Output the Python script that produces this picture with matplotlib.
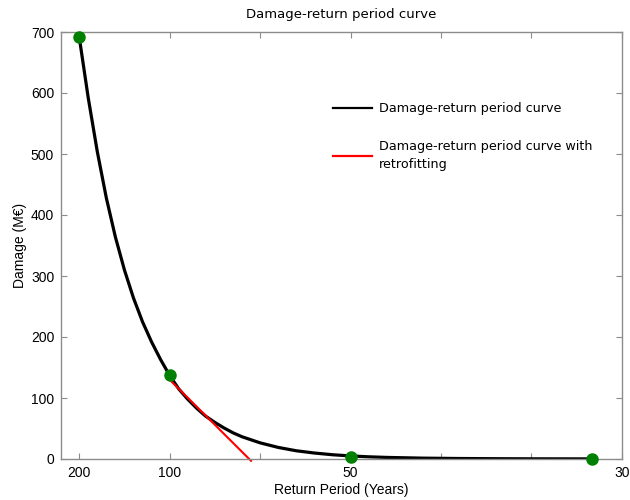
import numpy as np
import matplotlib
matplotlib.use('Agg')
import matplotlib.pyplot as plt

# Exceedance probability (1/return period) vs damage
prob = [0.005, 0.0055, 0.006, 0.0065, 0.007, 0.0075, 0.008, 0.0085, 0.009, 0.0095,
        0.01, 0.0105, 0.011, 0.0115, 0.012, 0.0125, 0.013, 0.0135, 0.014, 0.015,
        0.016, 0.017, 0.018, 0.019, 0.02, 0.021, 0.022, 0.024, 0.026, 0.028,
        0.03, 0.0333]
damage = [692, 592, 504, 428, 364, 310, 264, 225, 192, 163,
          137, 115, 98, 83, 70, 60, 51, 43, 36.5, 26.5,
          19, 13.5, 9.8, 7, 5, 3.6, 2.6, 1.4, 0.8, 0.5,
          0.3, 0.2]

# retrofitting curve
retro_prob = [0.01, 0.0145]
retro_damage = [130, -3]

# return periods with computed points
return_periods = [200, 100, 50, 30]
point_damage = [692, 137, 3, 0.5]

tick_pos = [0.005, 0.01, 0.015, 0.02, 0.025, 0.03, 0.035]
tick_labels = ['200', '100', '', '50', '', '', '30']

fig = plt.figure(figsize=(6.3, 5), dpi=100)
ax = fig.add_axes([0.097, 0.082, 0.89, 0.854])

ax.plot(prob, damage, color='black', lw=2.3, label='Damage-return period curve')
ax.plot(retro_prob, retro_damage, color='red', lw=1.5, clip_on=False,
        label='Damage-return period curve with\nretrofitting')
ax.plot([1.0 / t for t in return_periods], point_damage, 'o', color='green',
        ms=8, zorder=5, clip_on=False)

ax.set_xlim(0.004, 0.035)
ax.set_ylim(0, 700)
ax.set_xticks(tick_pos)
ax.set_xticklabels(tick_labels)
ax.set_yticks(range(0, 701, 100))

grey = '#8c8c8c'
for s in ax.spines.values():
    s.set_color(grey)
    s.set_linewidth(1.0)
ax.tick_params(direction='in', length=4, color=grey, top=True, right=True,
               labelsize=10, pad=5)
for lab in ax.get_xticklabels() + ax.get_yticklabels():
    lab.set_family('Liberation Sans')

ax.set_xlabel('Return Period (Years)', family='Liberation Sans', fontsize=10, labelpad=2)
ax.set_ylabel('Damage (M€)', family='Liberation Sans', fontsize=10, labelpad=3)
ax.set_title('Damage-return period curve', family='DejaVu Sans', fontsize=9.5, pad=10)

leg = ax.legend(loc='upper left', bbox_to_anchor=(0.465, 0.862), frameon=False,
                prop={'family': 'DejaVu Sans', 'size': 9.2}, handlelength=3.0,
                handletextpad=0.6, labelspacing=1.95)
leg.get_texts()[1].set_linespacing(1.5)
for h in leg.legend_handles:
    h.set_linewidth(1.6)

fig.savefig('out.png', dpi=100)
